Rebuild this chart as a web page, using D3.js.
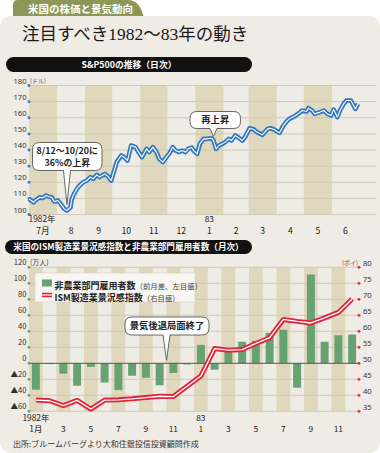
<!DOCTYPE html>
<html><head><meta charset="utf-8">
<script src="https://cdn.jsdelivr.net/npm/d3@7"></script>
<style>
html,body{margin:0;padding:0;background:#fff;}
svg{display:block;font-family:"Noto Sans CJK JP","Noto Sans",sans-serif;}
</style></head><body>
<svg id="c" width="380" height="453"></svg>
<script>
// ---------- DATA ----------
const spDates = ["1982-07-01","1982-07-06","1982-07-08","1982-07-13","1982-07-16","1982-07-20","1982-07-23","1982-07-26","1982-07-29",
"1982-08-02","1982-08-05","1982-08-09","1982-08-12","1982-08-16","1982-08-17","1982-08-19","1982-08-23","1982-08-26","1982-08-30",
"1982-09-03","1982-09-07","1982-09-10","1982-09-14","1982-09-17","1982-09-23","1982-09-27","1982-09-30",
"1982-10-06","1982-10-11","1982-10-14","1982-10-18","1982-10-22","1982-10-27","1982-10-29",
"1982-11-03","1982-11-08","1982-11-11","1982-11-15","1982-11-19","1982-11-22","1982-11-26","1982-11-30",
"1982-12-03","1982-12-07","1982-12-10","1982-12-14","1982-12-17","1982-12-21","1982-12-24","1982-12-28","1982-12-30",
"1983-01-03","1983-01-06","1983-01-10","1983-01-14","1983-01-19","1983-01-21","1983-01-24","1983-01-27","1983-01-31",
"1983-02-03","1983-02-07","1983-02-10","1983-02-14","1983-02-17","1983-02-22","1983-02-25",
"1983-03-02","1983-03-07","1983-03-09","1983-03-14","1983-03-16","1983-03-22","1983-03-25","1983-03-29",
"1983-04-04","1983-04-08","1983-04-12","1983-04-15","1983-04-19","1983-04-22","1983-04-26","1983-04-29",
"1983-05-04","1983-05-06","1983-05-10","1983-05-13","1983-05-19","1983-05-23","1983-05-27","1983-05-31",
"1983-06-03","1983-06-07","1983-06-10","1983-06-14","1983-06-17","1983-06-22","1983-06-27","1983-06-30"];
const spValues = [109.7,107.6,108.7,110.7,110.2,111.8,111.0,110.7,108.0,
108.7,106.6,103.5,102.5,104.5,109.0,111.8,115.9,118.0,120.0,
121.1,123.2,122.1,124.6,123.2,125.2,123.2,121.1,
132.5,136.6,135.6,133.5,142.8,141.8,139.7,
135.6,140.7,138.7,141.8,138.7,134.5,132.5,135.6,
137.6,141.8,139.7,138.7,139.7,138.7,140.7,141.5,139.7,
137.6,143.8,146.9,146.9,147.3,146.0,140.7,142.8,143.8,
144.9,146.9,145.9,149.0,148.0,145.9,148.0,
153.5,152.7,151.5,150.0,149.4,153.1,153.5,152.7,
150.6,154.8,157.7,159.3,160.4,161.4,163.0,164.5,
163.9,165.9,164.5,162.4,163.5,164.5,162.4,161.4,
165.1,160.4,164.5,168.6,170.7,170.7,165.5,168.6];
const spTicks = [100,110,120,130,140,150,160,170,180];
const spMonthLabels = ["7月","8","9","10","11","12","1","2","3","4","5","6"];

const months = ["1982-01","1982-02","1982-03","1982-04","1982-05","1982-06","1982-07","1982-08","1982-09","1982-10","1982-11","1982-12",
"1983-01","1983-02","1983-03","1983-04","1983-05","1983-06","1983-07","1983-08","1983-09","1983-10","1983-11","1983-12"];
const payrolls = [-33,-1,-13,-28,-4.5,-24,-33.5,-15.5,-18,-27.5,-12,-1.5,
                  23,-8,17,27,28,38,42,-30.5,111,27,35,36];
const ismIndex = [38.5,38.3,36.8,38.4,35.7,38.5,38.6,38.9,39.3,39.7,39.6,42.8,
                  46.0,54.6,54.1,54.3,56.2,58.0,63.7,63.1,62.6,64.2,65.9,70.1];
const leftTicks = [-60,-40,-20,0,20,40,60,80,100,120];
const rightTicks = [35,40,45,50,55,60,65,70,75,80];
const bottomMonthLabels = ["1月","","3","","5","","7","","9","","11","","1","","3","","5","","7","","9","","11",""];

// ---------- SETUP ----------
const svg = d3.select("#c");
const parse = d3.timeParse("%Y-%m-%d");
const C = {panel:"#efebe5", band:"#e0d8bd", grid:"#cdc5b6", blue:"#2f78c0", red:"#e2233b", green:"#67a273", text:"#222"};

// tab + panel
svg.append("path").attr("d","M13,18 V5 Q13,0 18,0 H128 Q140,0 144,18 Z").attr("fill","#8d9858");
svg.append("rect").attr("x",0).attr("y",16).attr("width",380).attr("height",437).attr("rx",11).attr("fill",C.panel);
svg.append("text").attr("x",28).attr("y",12.5).attr("fill","#fff").attr("font-size",10.5).attr("font-weight",700)
  .text("米国の株価と景気動向");
svg.append("text").attr("x",22).attr("y",39.5).attr("fill","#1a1a1a").attr("font-size",17.5)
  .attr("font-family","'Liberation Serif','Noto Sans CJK JP',serif").attr("font-weight",400)
  .text("注目すべき1982～83年の動き");

function pill(x,y,w,h,label,fs){
  svg.append("rect").attr("x",x).attr("y",y).attr("width",w).attr("height",h).attr("rx",h/2).attr("fill","#111");
  svg.append("text").attr("x",x+w/2).attr("y",y+h/2).attr("dy","0.36em").attr("text-anchor","middle")
    .attr("fill","#fff").attr("font-size",fs).attr("font-weight",700).text(label);
}
pill(6,57,246,15,"S&P500の推移（日次）",8.8);

// ---------- TOP CHART ----------
const x1 = d3.scaleTime().domain([new Date(1982,6,1), new Date(1983,6,1)]).range([29,359]);
const y1 = d3.scaleLinear().domain([100,180]).range([214.5,85.5]);
const gTop = svg.append("g");
const mths = d3.timeMonths(new Date(1982,6,1), new Date(1983,6,1));
gTop.selectAll("rect.band").data(mths.filter((d,i)=>i%2===0)).join("rect")
  .attr("x",d=>x1(d)).attr("width",d=>x1(d3.timeMonth.offset(d,1))-x1(d))
  .attr("y",y1(180)).attr("height",y1(100)-y1(180)).attr("fill",C.band);
gTop.selectAll("line.grid").data(spTicks).join("line")
  .attr("x1",29).attr("x2",376).attr("y1",d=>y1(d)).attr("y2",d=>y1(d))
  .attr("stroke",C.grid).attr("stroke-width",0.9);
gTop.selectAll("circle.dot").data(spTicks).join("circle")
  .attr("cx",29).attr("cy",d=>y1(d)).attr("r",1.4).attr("fill",C.blue);
gTop.selectAll("text.tick").data(spTicks).join("text")
  .attr("x",26.5).attr("y",d=>y1(d)-2).attr("text-anchor","end").attr("font-size",7.6).attr("fill","#333")
  .attr("font-family","'Noto Sans',sans-serif").text(d=>d);
gTop.append("text").attr("x",30).attr("y",y1(180)-2.5).attr("font-size",6).attr("fill","#555").text("(ドル)");

const line1 = d3.line().x((d,i)=>x1(parse(spDates[i]))).y(d=>y1(d));
gTop.append("path").attr("d",line1(spValues)).attr("fill","none").attr("stroke",C.blue).attr("stroke-width",4.6).attr("stroke-linejoin","round");
gTop.append("path").attr("d",line1(spValues)).attr("fill","none").attr("stroke","#fff").attr("stroke-width",1.1).attr("stroke-linejoin","round");

// month labels
gTop.selectAll("text.m").data(mths).join("text")
  .attr("x",d=>(x1(d)+x1(d3.timeMonth.offset(d,1)))/2).attr("y",233.5).attr("text-anchor","middle")
  .attr("font-size",8.6).attr("fill",C.text).text((d,i)=>spMonthLabels[i]);
gTop.append("text").attr("x",28.5).attr("y",221.5).attr("font-size",8.4).attr("fill",C.text).text("1982年");
gTop.append("text").attr("x",(x1(new Date(1983,0,1))+x1(new Date(1983,1,1)))/2).attr("y",221.5)
  .attr("text-anchor","middle").attr("font-size",8.4).attr("fill",C.text).text("83");

// callouts (multi-line text in one text element)
function callout(g,bx,by,bw,bh,tx,ty,lines,fs,lh){
  const r=7, b=by+bh;
  const d=`M${bx+r},${by} H${bx+bw-r} Q${bx+bw},${by} ${bx+bw},${by+r} V${b-r} Q${bx+bw},${b} ${bx+bw-r},${b} H${tx+3.5} L${tx},${ty} L${tx-3.5},${b} H${bx+r} Q${bx},${b} ${bx},${b-r} V${by+r} Q${bx},${by} ${bx+r},${by} Z`;
  g.append("path").attr("d",d).attr("fill","#fff").attr("stroke","#444").attr("stroke-width",0.8);
  const cy = by+bh/2 - (lines.length-1)*lh/2;
  const t = g.append("text").attr("text-anchor","middle").attr("font-size",fs).attr("font-weight",700).attr("fill",C.text);
  lines.forEach((s,i)=>t.append("tspan").attr("x",bx+bw/2).attr("y",cy+i*lh).attr("dy","0.36em").text(s));
}
callout(gTop,32.5,142.5,69.5,28, x1(parse("1982-08-12")), y1(102.5)-6, ["8/12～10/20に","36%の上昇"],8.9,12.2);
callout(gTop,190,111.5,50.5,17, x1(parse("1983-01-21")), y1(146)-4, ["再上昇"],9.3,11);

// ---------- BOTTOM CHART ----------
pill(5,240,247,14,"米国のISM製造業景況感指数と非農業部門雇用者数（月次）",8.6);
const xs = d3.scaleBand().domain(months).range([29,359]).padding(0);
const xb = d3.scaleBand().domain(months).range([29,359]).paddingInner(0.42).paddingOuter(0.21);
const yL = d3.scaleLinear().domain([-60,120]).range([411.3,267.3]);
const yR = d3.scaleLinear().domain([35,80]).range([411.3,267.3]);
const gB = svg.append("g");
gB.selectAll("rect.band").data(months.filter((d,i)=>i%2===0)).join("rect")
  .attr("x",d=>xs(d)).attr("width",xs.bandwidth()).attr("y",yL(120)).attr("height",yL(-60)-yL(120)).attr("fill",C.band);
gB.selectAll("line.grid").data(leftTicks.filter(d=>d!==0)).join("line")
  .attr("x1",29).attr("x2",359).attr("y1",d=>yL(d)).attr("y2",d=>yL(d)).attr("stroke",C.grid).attr("stroke-width",0.9);
gB.selectAll("rect.bar").data(payrolls).join("rect")
  .attr("x",(d,i)=>xb(months[i])).attr("width",xb.bandwidth())
  .attr("y",d=>yL(Math.max(0,d))).attr("height",d=>Math.abs(yL(d)-yL(0))).attr("fill",C.green);
gB.append("line").attr("x1",29).attr("x2",359).attr("y1",yL(0)).attr("y2",yL(0)).attr("stroke","#555").attr("stroke-width",1);

const line2 = d3.line().x((d,i)=>xs(months[i])+xs.bandwidth()/2).y(d=>yR(d));
gB.append("path").attr("d",line2(ismIndex)).attr("fill","none").attr("stroke",C.red).attr("stroke-width",5).attr("stroke-linejoin","round");
gB.append("path").attr("d",line2(ismIndex)).attr("fill","none").attr("stroke","#fff").attr("stroke-width",1.3).attr("stroke-linejoin","round");

gB.selectAll("circle.l").data(leftTicks).join("circle").attr("cx",29).attr("cy",d=>yL(d)).attr("r",1.4).attr("fill",C.green);
gB.selectAll("circle.r").data(rightTicks).join("circle").attr("cx",359).attr("cy",d=>yR(d)).attr("r",1.4).attr("fill",C.red);
gB.selectAll("text.l").data(leftTicks).join("text")
  .attr("x",26.5).attr("y",d=>yL(d)-2).attr("text-anchor","end").attr("font-size",7.6).attr("fill","#333")
  .text(d=>d<0?"▲"+(-d):d);
gB.append("text").attr("x",30).attr("y",yL(120)-2).attr("font-size",7).attr("fill","#444").text("(万人)");
gB.selectAll("text.r").data(rightTicks).join("text")
  .attr("x",363).attr("y",d=>yR(d)-1.5).attr("font-size",7.6).attr("fill","#333").attr("font-family","'Noto Sans',sans-serif")
  .text(d=>d);
gB.append("text").attr("x",358).attr("y",yR(80)-2).attr("text-anchor","end").attr("font-size",6).attr("fill","#555").text("(ポイ)");

// x labels
gB.selectAll("text.m").data(months).join("text")
  .attr("x",d=>xs(d)+xs.bandwidth()/2).attr("y",431.5).attr("text-anchor","middle").attr("font-size",8.4).attr("fill",C.text)
  .text((d,i)=>bottomMonthLabels[i]);
gB.append("text").attr("x",xs("1982-01")+xs.bandwidth()/2).attr("y",420.5).attr("text-anchor","middle").attr("font-size",8.4).attr("fill",C.text).text("1982年");
gB.append("text").attr("x",xs("1983-01")+xs.bandwidth()/2).attr("y",420.5).attr("text-anchor","middle").attr("font-size",8.4).attr("fill",C.text).text("83");

// legend
const lg = gB.append("g");
lg.append("rect").attr("x",35).attr("y",273).attr("width",160).attr("height",29).attr("fill","#f8f6f2").attr("stroke","#d5cfc4").attr("stroke-width",0.6);
lg.append("rect").attr("x",42).attr("y",279.5).attr("width",10).attr("height",7).attr("fill",C.green);
lg.append("line").attr("x1",42).attr("x2",52).attr("y1",295).attr("y2",295).attr("stroke",C.red).attr("stroke-width",4.5);
lg.append("line").attr("x1",42).attr("x2",52).attr("y1",295).attr("y2",295).attr("stroke","#fff").attr("stroke-width",1.2);
const t1 = lg.append("text").attr("x",54.5).attr("y",283).attr("dy","0.36em").attr("fill",C.text);
t1.append("tspan").attr("font-size",9).attr("font-weight",700).text("非農業部門雇用者数");
t1.append("tspan").attr("font-size",7.4).attr("fill","#444").text("（前月差、左目盛）");
const t2 = lg.append("text").attr("x",54.5).attr("y",295).attr("dy","0.36em").attr("fill",C.text);
t2.append("tspan").attr("font-size",9).attr("font-weight",700).text("ISM製造業景況感指数");
t2.append("tspan").attr("font-size",7.4).attr("fill","#444").text("（右目盛）");

callout(gB,125,317,84,18, xs("1982-11"), yL(0)-3, ["景気後退局面終了"],9.3,11);

// source
svg.append("text").attr("x",13).attr("y",447).attr("font-size",8).attr("fill","#333").text("出所:ブルームバーグより大和住銀投信投資顧問作成");
</script>
</body></html>
